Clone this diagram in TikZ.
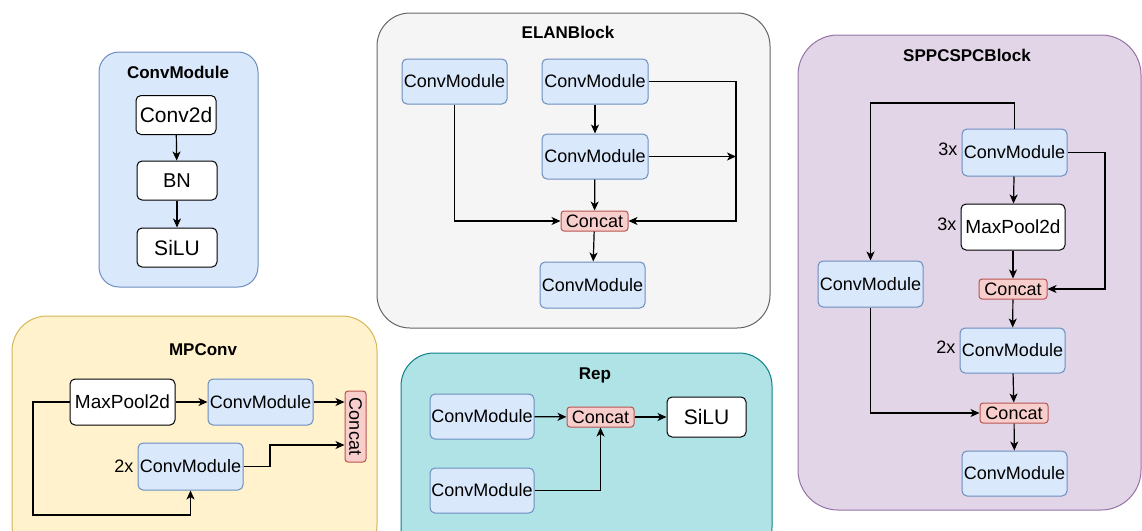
\documentclass[tikz,border=0pt]{standalone}
\usepackage{fontspec}
\setmainfont{Liberation Sans}
\usetikzlibrary{arrows.meta,positioning}

\definecolor{cmfill}{HTML}{DAE8FC}
\definecolor{cmline}{HTML}{6C8EBF}
\definecolor{catfill}{HTML}{F8CECC}
\definecolor{catline}{HTML}{B85450}
\definecolor{mpfill}{HTML}{FFF2CC}
\definecolor{mpline}{HTML}{D6B656}
\definecolor{elfill}{HTML}{F5F5F5}
\definecolor{elline}{HTML}{666666}
\definecolor{rpfill}{HTML}{B0E3E6}
\definecolor{rpline}{HTML}{0E8088}
\definecolor{spfill}{HTML}{E1D5E7}
\definecolor{spline}{HTML}{9673A6}

\begin{document}
\begin{tikzpicture}[x=1pt, y=-1pt, font=\fontsize{18}{21}\selectfont,
  pnl/.style={line width=1pt},
  cmod/.style={draw=cmline, fill=cmfill, rounded corners=5pt, line width=1pt, minimum width=105pt, minimum height=46pt, inner sep=0pt},
  wbox/.style={draw=black, fill=white, rounded corners=5pt, line width=1pt, minimum width=80pt, minimum height=39pt, inner sep=0pt},
  cat/.style={draw=catline, fill=catfill, rounded corners=3pt, line width=1pt, minimum width=67pt, minimum height=20pt, inner sep=0pt},
  ttl/.style={font=\fontsize{17}{20}\selectfont\bfseries},
  rep/.style={inner sep=2pt},
  flow/.style={line width=1.2pt, -{Stealth[length=9pt,width=8pt,inset=2.5pt]}}]
  \clip (0,0) rectangle (1142,530);

  % panels
  \draw[pnl, draw=cmline, fill=cmfill, rounded corners=20pt] (99,52) rectangle (258,287);
  \draw[pnl, draw=mpline, fill=mpfill, rounded corners=35pt] (12,316) rectangle (377,560);
  \draw[pnl, draw=elline, fill=elfill, rounded corners=33pt] (377,13) rectangle (770,328);
  \draw[pnl, draw=rpline, fill=rpfill, rounded corners=33pt] (401,353) rectangle (772,560);
  \draw[pnl, draw=spline, fill=spfill, rounded corners=40pt] (798,35) rectangle (1141,510);

  % ConvModule
  \node[ttl] (cvt) at (178,72) {ConvModule};
  \node[wbox, font=\fontsize{21}{24}\selectfont] (conv) at (176,115) {Conv2d};
  \node[wbox, font=\fontsize{20}{24}\selectfont] (bn) at (177,180.5) {BN};
  \node[wbox, font=\fontsize{21}{24}\selectfont] (silu) at (177,247.5) {SiLU};
  \path[flow]
  (conv) edge (bn)
  (bn) edge (silu);

  % MPConv
  \node[ttl] (mpt) at (203,350) {MPConv};
  \node[wbox, minimum width=105pt, minimum height=46pt, font=\fontsize{19}{22}\selectfont] (mpmax) at (122.5,402) {MaxPool2d};
  \node[cmod] (mpcma) at (260.5,402) {ConvModule};
  \node[cat, rotate=-90, minimum width=71pt, minimum height=21pt] (mpcat) at (355.5,426.5) {Concat};
  \node[cmod, minimum height=47pt] (mpcmb) at (190.5,466.5) {ConvModule};
  \node[rep, left=2pt of mpcmb] (mpx) {2x};
  \coordinate (mpk) at (270,445);
  \coordinate (mpl) at (33,515);
  \path[flow]
  (mpmax) edge (mpcma)
  (mpcma.east) edge (mpcma.east -| mpcat.south);
  \draw[flow] (mpcmb.east) -| (mpk) -- (mpk -| mpcat.south);
  \draw[flow] (mpmax.west) -| (mpl) -| (mpcmb.south);

  % ELANBlock
  \node[ttl] (elt) at (568,32) {ELANBlock};
  \node[cmod, minimum height=45pt] (elcl) at (454.5,81.5) {ConvModule};
  \node[cmod, minimum width=106pt, minimum height=45pt] (elct) at (595,81.5) {ConvModule};
  \node[cmod, minimum width=106pt, minimum height=45pt] (elcm) at (595,156.5) {ConvModule};
  \node[cat] (elcat) at (594.5,221) {Concat};
  \node[cmod] (elcb) at (592.5,285) {ConvModule};
  \coordinate (elr) at (736,221);
  \path[flow]
  (elct) edge (elcm)
  (elcm) edge (elcat)
  (elcat) edge (elcb)
  (elcm.east) edge (elcm.east -| elr);
  \draw[flow] (elcl.south) |- (elcat.west);
  \draw[flow] (elct.east) -| (elr) -- (elcat.east);

  % Rep
  \node[ttl] (rpt) at (595,375) {Rep};
  \node[cmod, minimum width=104pt, minimum height=45pt] (rpa) at (482,416.5) {ConvModule};
  \node[cat] (rpcat) at (600.5,417) {Concat};
  \node[wbox, minimum width=79pt, minimum height=40pt, font=\fontsize{21}{24}\selectfont] (rpsilu) at (706.5,417) {SiLU};
  \node[cmod, minimum width=104pt, minimum height=45pt] (rpb) at (482,490.5) {ConvModule};
  \path[flow]
  (rpa) edge (rpcat)
  (rpcat) edge (rpsilu);
  \draw[flow] (rpb.east) -| (rpcat.south);

  % SPPCSPCBlock
  \node[ttl] (spt) at (967,55) {SPPCSPCBlock};
  \node[cmod, minimum height=47pt] (spa) at (1014.5,152.5) {ConvModule};
  \node[rep, left=2pt of spa, yshift=3pt] (spax) {3x};
  \node[wbox, minimum width=104pt, minimum height=46pt, font=\fontsize{19}{22}\selectfont] (spmax) at (1013,227) {MaxPool2d};
  \node[rep, left=2pt of spmax, yshift=3pt] (spmx) {3x};
  \node[cat, minimum width=68pt] (spcata) at (1013,289) {Concat};
  \node[cmod, minimum height=45pt] (spb) at (1012.5,350.5) {ConvModule};
  \node[rep, left=2pt of spb, yshift=3pt] (spbx) {2x};
  \node[cat, minimum width=68pt] (spcatb) at (1014,413) {Concat};
  \node[cmod, minimum height=45pt] (spc) at (1014.5,473.5) {ConvModule};
  \node[cmod] (spl) at (870.5,284) {ConvModule};
  \coordinate (spr) at (1105,289);
  \coordinate (spk) at (870.5,103);
  \path[flow]
  (spa) edge (spmax)
  (spmax) edge (spcata)
  (spcata) edge (spb)
  (spb) edge (spcatb)
  (spcatb) edge (spc);
  \draw[flow] (spa.east) -| (spr) -- (spcata.east);
  \draw[flow] (spa.north) |- (spk) -- (spl.north);
  \draw[flow] (spl.south) |- (spcatb.west);
\end{tikzpicture}
\end{document}
